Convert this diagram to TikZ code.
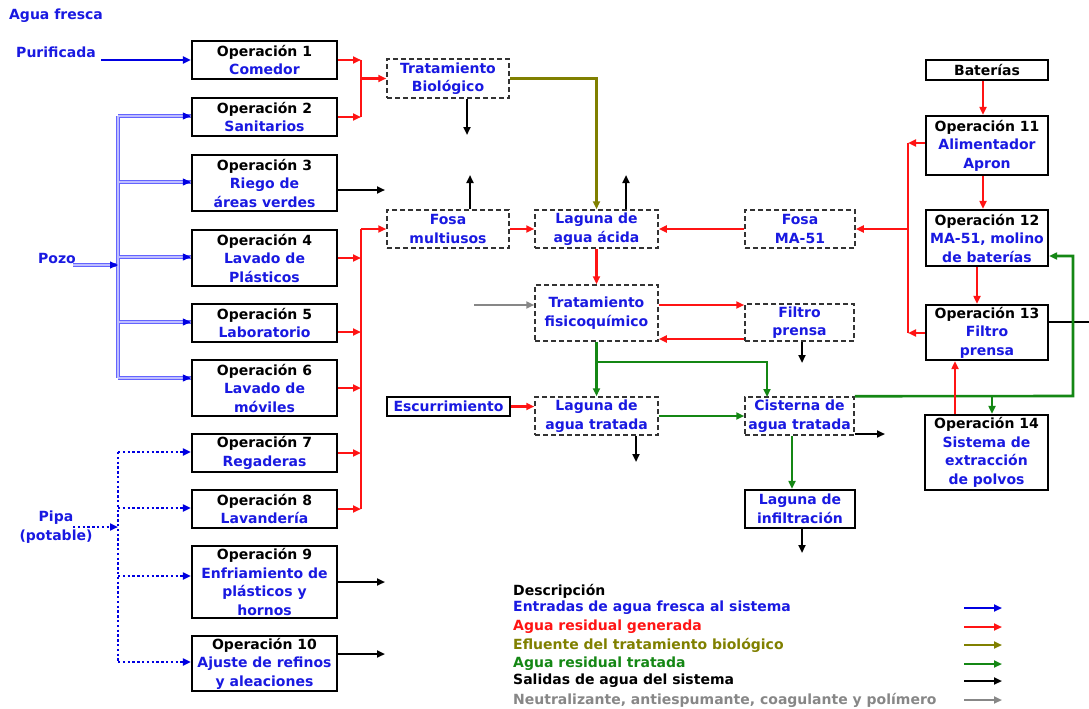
\documentclass[tikz,border=0pt]{standalone}
\usepackage{fontspec}
\setmainfont{DejaVu Sans}
\usetikzlibrary{arrows.meta,calc}
\definecolor{tblue}{RGB}{25,25,225}
\definecolor{ablue}{RGB}{0,0,225}
\definecolor{pblue}{RGB}{100,100,255}
\definecolor{pfill}{RGB}{190,190,255}
\definecolor{wr}{RGB}{255,20,20}
\definecolor{wg}{RGB}{20,135,20}
\definecolor{wo}{RGB}{128,128,0}
\definecolor{wgr}{RGB}{135,135,135}
\newcommand{\opname}[1]{{\color{black}Operación #1}}
\begin{document}
\begin{tikzpicture}[x=1pt,y=-1pt,
 every node/.style={font=\bfseries\fontsize{14}{18.5}\selectfont, inner sep=0pt, align=center},
 sbox/.style={draw=black, line width=2.3pt, text=tblue, fill=white},
 dbox/.style={draw=black!80, line width=1.5pt, dash pattern=on 5pt off 3pt, text=tblue, fill=white},
 opw/.style={minimum width=145},
 tip/.style={-{Triangle[length=8pt,width=7pt]}},
 fresh/.style={tip, draw=ablue, line width=2.4pt},
 waste/.style={tip, draw=wr, line width=2.8pt},
 rbus/.style={draw=wr, line width=2.8pt},
 bio/.style={tip, draw=wo, line width=2.8pt},
 treated/.style={tip, draw=wg, line width=2.6pt},
 outw/.style={tip, draw=black, line width=2.4pt},
 chem/.style={tip, draw=wgr, line width=2.4pt},
 pozo/.style={draw=pblue, line width=1pt, double=pfill, double distance=2pt},
 pozotip/.style={tip, draw=ablue, line width=1pt},
 pipa/.style={draw=ablue, line width=2.4pt, dash pattern=on 2.4pt off 2.4pt},
 txt/.style={text=tblue}
]
\useasboundingbox (0,0) rectangle (1089,709);

% ---- left labels
\node[txt] (af) at (56,16) {Agua fresca};
\node[txt] (pur) at (56,52) {Purificada};
\node[txt] (pozo) at (57,258) {Pozo};
\node[txt] (pipa) at (56,527) {Pipa\\(potable)};

% ---- operations left column
\node[sbox,opw,minimum height=38] (op1) at (264.5,60) {\opname{1}\\Comedor};
\node[sbox,opw,minimum height=38] (op2) at (264.5,117) {\opname{2}\\Sanitarios};
\node[sbox,opw,minimum height=56] (op3) at (264.5,183) {\opname{3}\\Riego de\\áreas verdes};
\node[sbox,opw,minimum height=56] (op4) at (264.5,258) {\opname{4}\\Lavado de\\Plásticos};
\node[sbox,opw,minimum height=38] (op5) at (264.5,323) {\opname{5}\\Laboratorio};
\node[sbox,opw,minimum height=56] (op6) at (264.5,388) {\opname{6}\\Lavado de\\móviles};
\node[sbox,opw,minimum height=38] (op7) at (264.5,453) {\opname{7}\\Regaderas};
\node[sbox,opw,minimum height=38] (op8) at (264.5,509) {\opname{8}\\Lavandería};
\node[sbox,opw,minimum height=72] (op9) at (264.5,582) {\opname{9}\\Enfriamiento de\\plásticos y\\hornos};
\node[sbox,opw,minimum height=55] (op10) at (264.5,663.5) {\opname{10}\\Ajuste de refinos\\y aleaciones};

% ---- treatment boxes
\node[dbox,minimum width=122,minimum height=39] (tb) at (448,78.5) {Tratamiento\\Biológico};
\node[dbox,minimum width=122,minimum height=38] (fm) at (448,229) {Fosa\\multiusos};
\node[dbox,minimum width=123,minimum height=38] (la) at (596.5,229) {Laguna de\\agua ácida};
\node[dbox,minimum width=110,minimum height=38] (fma) at (800,229) {Fosa\\MA-51};
\node[dbox,minimum width=123,minimum height=56] (tf) at (596.5,313) {Tratamiento\\fisicoquímico};
\node[dbox,minimum width=109,minimum height=37] (fp) at (799.5,322.5) {Filtro\\prensa};
\node[sbox,minimum width=123,minimum height=19] (esc) at (448.5,406.5) {Escurrimiento};
\node[dbox,minimum width=123,minimum height=38] (lt) at (596.5,416) {Laguna de\\agua tratada};
\node[dbox,minimum width=109,minimum height=38] (ci) at (799.5,416) {Cisterna de\\agua tratada};
\node[sbox,minimum width=110,minimum height=38] (li) at (800,509) {Laguna de\\infiltración};

% ---- right column
\node[sbox,minimum width=122,minimum height=20,text=black] (bat) at (987,70) {Baterías};
\node[sbox,minimum width=122,minimum height=59] (op11) at (987,145.5) {\opname{11}\\Alimentador\\Apron};
\node[sbox,minimum width=122,minimum height=56] (op12) at (987,238) {\opname{12}\\MA-51, molino\\de baterías};
\node[sbox,minimum width=122,minimum height=55] (op13) at (987,332.5) {\opname{13}\\Filtro\\prensa};
\node[sbox,minimum width=123,minimum height=75] (op14) at (986.5,452.5) {\opname{14}\\Sistema de\\extracción\\de polvos};

% ---- fresh water inputs
\coordinate (purS) at (101,60);
\draw[fresh] (purS) -- (op1.west);

\coordinate (pzS) at (73,265);
\coordinate (pzB) at (118,265);
\coordinate (pzT) at (118,116);
\coordinate (pz3) at (118,182);
\coordinate (pz4) at (118,257);
\coordinate (pz5) at (118,322);
\coordinate (pzE) at (118,378);
\draw[pozo] (pzS) -- (pzB)
  (pzT) -- (pzE)
  (pzT) -- (op2.west |- pzT)
  (pz3) -- (op3.west |- pz3)
  (pz4) -- (op4.west |- pz4)
  (pz5) -- (op5.west |- pz5)
  (pzE) -- (op6.west |- pzE);
\draw[pozotip] ($(pzB)+(-1,0)$) -- (pzB);
\draw[pozotip] ($(op2.west |- pzT)+(-1,0)$) -- (op2.west |- pzT);
\draw[pozotip] ($(op3.west |- pz3)+(-1,0)$) -- (op3.west |- pz3);
\draw[pozotip] ($(op4.west |- pz4)+(-1,0)$) -- (op4.west |- pz4);
\draw[pozotip] ($(op5.west |- pz5)+(-1,0)$) -- (op5.west |- pz5);
\draw[pozotip] ($(op6.west |- pzE)+(-1,0)$) -- (op6.west |- pzE);

\coordinate (ppS) at (73,527);
\coordinate (ppB) at (118,527);
\coordinate (pp7) at (118,452);
\coordinate (pp8) at (118,508);
\coordinate (pp9) at (118,576);
\coordinate (pp10) at (118,662);
\draw[pipa] (pp7) -- (pp10);
\draw[pipa,tip] (ppS) -- (ppB);
\draw[pipa,tip] (pp7) -- (op7.west |- pp7);
\draw[pipa,tip] (pp8) -- (op8.west |- pp8);
\draw[pipa,tip] (pp9) -- (op9.west |- pp9);
\draw[pipa,tip] (pp10) -- (op10.west |- pp10);

% ---- waste water from operations
\coordinate (bx) at (361,0);
\draw[waste] (op1.east) -- (op1.east -| bx);
\draw[waste] (op2.east) -- (op2.east -| bx);
\draw[rbus] (op1.east -| bx) -- (op2.east -| bx);
\draw[waste] (tb.west -| bx) -- (tb.west);

\draw[waste] (op4.east) -- (op4.east -| bx);
\draw[waste] ($(op5.east)+(0,9)$) -- ($(op5.east -| bx)+(0,9)$);
\draw[waste] (op6.east) -- (op6.east -| bx);
\draw[waste] (op7.east) -- (op7.east -| bx);
\draw[waste] (op8.east) -- (op8.east -| bx);
\draw[rbus] (fm.west -| bx) -- (op8.east -| bx);
\draw[waste] (fm.west -| bx) -- (fm.west);

% ---- outputs from operations
\coordinate (o3e) at (385,190);
\coordinate (o9e) at (385,582);
\coordinate (o10e) at (385,654);
\draw[outw] (op3.east |- o3e) -- (o3e);
\draw[outw] (op9.east |- o9e) -- (o9e);
\draw[outw] (op10.east |- o10e) -- (o10e);

% ---- treatment area
\coordinate (tbD) at (467,135);
\coordinate (fmU) at (470,175);
\coordinate (laU) at (626,175);
\draw[outw] (tb.south -| tbD) -- (tbD);
\draw[outw] (fm.north -| fmU) -- (fmU);
\draw[outw] (la.north -| laU) -- (laU);
\draw[bio] (tb.east) -| (la.north);
\draw[waste] (fm.east) -- (la.west);
\draw[waste] (fma.west) -- (la.east);
\draw[waste] (la.south) -- (tf.north);

\coordinate (grS) at (474,305);
\draw[chem] (grS) -- (tf.west |- grS);
\draw[waste] (tf.east |- grS) -- (fp.west |- grS);
\coordinate (fpB) at (0,339);
\draw[waste] (fp.west |- fpB) -- (tf.east |- fpB);
\coordinate (fpD) at (802,363);
\draw[outw] (fp.south -| fpD) -- (fpD);

\coordinate (gJ) at (596.5,362);
\coordinate (ciT) at (767,397);
\draw[treated] (tf.south) -- (lt.north);
\draw[treated] (gJ) -| (ciT);
\draw[waste] (esc.east) -- (lt.west |- esc.east);
\draw[treated] (lt.east) -- (ci.west);
\coordinate (ltD) at (636,462);
\draw[outw] (lt.south -| ltD) -- (ltD);
\coordinate (ciR) at (885,434);
\draw[outw] (ci.east |- ciR) -- (ciR);
\coordinate (ciL) at (792,0);
\draw[treated] (ci.south -| ciL) -- (li.north -| ciL);
\coordinate (liD) at (802,553);
\draw[outw] (li.south -| liD) -- (liD);

% ---- right column flows
\coordinate (o13R) at (1089,322);
\draw[draw=black, line width=2.4pt] (op13.east |- o13R) -- (o13R);
\coordinate (gR) at (1073,396);
\coordinate (g14) at (992,396);
\draw[treated] (ci.north east) -- (gR) |- ($(op12.east)+(0,18)$);
\draw[treated] (g14) -- (op14.north -| g14);
\coordinate (r14) at (955,0);
\draw[waste] (op14.north -| r14) -- (op13.south -| r14);

\coordinate (bx2) at (983,0);
\coordinate (bx3) at (977,0);
\draw[waste] (bat.south -| bx2) -- (op11.north -| bx2);
\draw[waste] (op11.south -| bx2) -- (op12.north -| bx2);
\draw[waste] (op12.south -| bx3) -- (op13.north -| bx3);
\coordinate (rbT) at (908,143);
\coordinate (rbB) at (908,333);
\draw[waste] (op11.west |- rbT) -- (rbT);
\draw[waste] (op13.west |- rbB) -- (rbB);
\draw[rbus] (rbT) -- (rbB);
\draw[waste] (fma.east -| rbT) -- (fma.east);

% ---- legend
\node[anchor=west,text=black] (lg0) at (513,591) {Descripción};
\node[anchor=west,text=tblue] (lg1) at (513,608) {Entradas de agua fresca al sistema};
\node[anchor=west,text=wr] (lg2) at (513,627) {Agua residual generada};
\node[anchor=west,text=wo] (lg3) at (513,645) {Efluente del tratamiento biológico};
\node[anchor=west,text=wg] (lg4) at (513,664) {Agua residual tratada};
\node[anchor=west,text=black] (lg5) at (513,681) {Salidas de agua del sistema};
\node[anchor=west,text=wgr] (lg6) at (513,700) {Neutralizante, antiespumante, coagulante y polímero};
\coordinate (a1s) at (964,608); \coordinate (a1e) at (1002,608);
\coordinate (a2s) at (964,627); \coordinate (a2e) at (1002,627);
\coordinate (a3s) at (964,645); \coordinate (a3e) at (1002,645);
\coordinate (a4s) at (964,664); \coordinate (a4e) at (1002,664);
\coordinate (a5s) at (964,681); \coordinate (a5e) at (1002,681);
\coordinate (a6s) at (964,700); \coordinate (a6e) at (1002,700);
\draw[fresh] (a1s) -- (a1e);
\draw[waste] (a2s) -- (a2e);
\draw[bio] (a3s) -- (a3e);
\draw[treated] (a4s) -- (a4e);
\draw[outw] (a5s) -- (a5e);
\draw[chem] (a6s) -- (a6e);
\end{tikzpicture}
\end{document}
